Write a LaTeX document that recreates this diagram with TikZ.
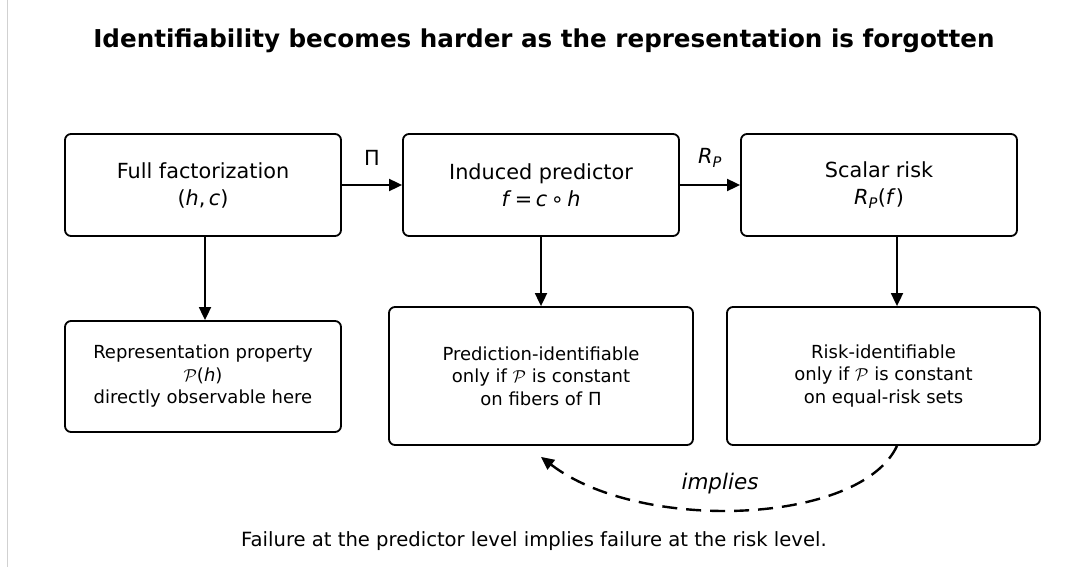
\documentclass[tikz,border=0pt]{standalone}
\usepackage{fontspec}
\setmainfont{DejaVu Sans}
\usetikzlibrary{arrows.meta}
\begin{document}
\begin{tikzpicture}[x=1pt,y=-1pt,
  box/.style={draw, line width=1.8pt, rounded corners=6pt, align=center, inner sep=0pt},
  topbox/.style={box, minimum width=276pt, minimum height=102pt, font=\fontsize{20.8}{27}\selectfont},
  lowbox/.style={box, font=\fontsize{18}{22.5}\selectfont},
  arr/.style={-{Triangle[length=13pt,width=12pt]}, line width=1.8pt},
  lbl/.style={font=\fontsize{20.8}{25}\selectfont}]
\useasboundingbox (0,0) rectangle (1068,567);
\draw[black!18, line width=1pt] (7,0) -- (7,567);
\node[font=\bfseries\fontsize{24.6}{28}\selectfont] (title) at (544,41) {Identifiability becomes harder as the representation is forgotten};
\node[topbox] (A) at (203,185) {Full factorization\\(\textit{h},\,\textit{c})};
\node[topbox] (B) at (541,185) {Induced predictor\\\textit{f}\,=\,\textit{c}\,∘\,\textit{h}};
\node[topbox] (C) at (879,185) {Scalar risk\\\textit{R}\textsubscript{\textit{P}}(\textit{f})};
\node[lowbox, minimum width=276pt, minimum height=111pt] (D) at (203,376.5) {Representation property\\$\mathcal{P}$(\textit{h})\\directly observable here};
\node[lowbox, minimum width=304pt, minimum height=138pt] (E) at (541,376) {Prediction-identifiable\\only if $\mathcal{P}$ is constant\\on fibers of Π};
\node[lowbox, minimum width=313pt, minimum height=138pt] (F) at (883.5,376) {Risk-identifiable\\only if $\mathcal{P}$ is constant\\on equal-risk sets};
\draw[arr] (A) -- node[lbl, yshift=27pt] (pi) {Π} (B);
\draw[arr] (B) -- node[lbl, yshift=27pt] (rp) {\textit{R}\textsubscript{\textit{P}}} (C);
\draw[arr] ([xshift=2pt]A.south) -- ([xshift=2pt]A.south |- D.north);
\draw[arr] (B.south) -- (E.north);
\draw[arr] ([xshift=18pt]C.south) -- ([xshift=18pt]C.south |- F.north);
\coordinate (s) at ([xshift=13.5pt]F.south);
\coordinate (e) at ([yshift=-11pt]E.south);
\draw[dash pattern=on 15pt off 9pt, line width=2.4pt, -{Triangle[length=13pt,width=12pt]}] (s) .. controls (860,525) and (640,533) .. (e);
\node[font=\itshape\fontsize{21.5}{25}\selectfont] (imp) at (720,484) {implies};
\node[font=\fontsize{19.6}{23}\selectfont] (cap) at (534,541) {Failure at the predictor level implies failure at the risk level.};
\end{tikzpicture}
\end{document}
